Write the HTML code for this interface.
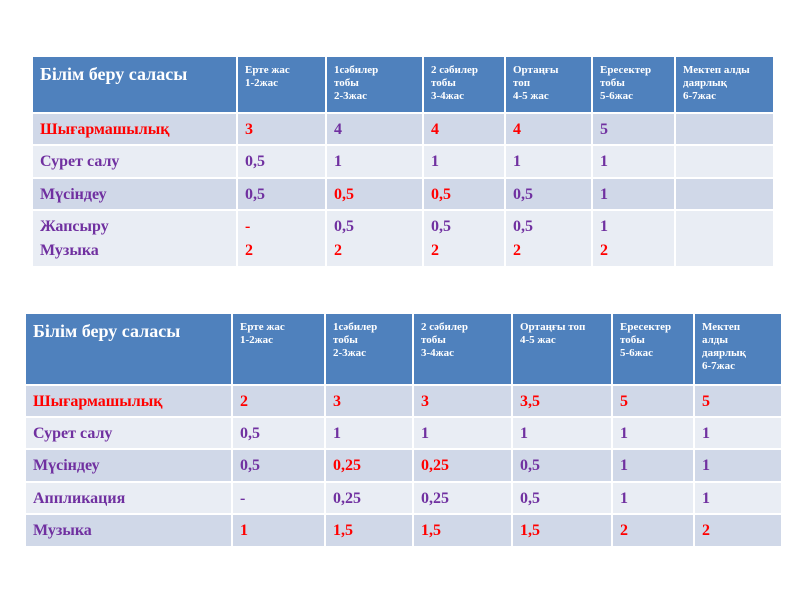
<!DOCTYPE html>
<html><head><meta charset="utf-8"><style>
body{margin:0;width:800px;height:600px;background:#fff;position:relative;overflow:hidden;font-family:"Liberation Serif",serif;font-weight:bold}
table{position:absolute;border-collapse:collapse;table-layout:fixed}
td{border:2px solid #fff;padding:0 0 0 7px;vertical-align:top;font-size:16px;color:#7030a0;line-height:24px}
tr.h td{background:#4f81bd;color:#fff;font-size:11px;line-height:13px;padding-top:7px}
tr.h td.f{font-size:18px;line-height:22px;padding-top:6px}
tr.a td{background:#d0d8e8}
tr.b td{background:#e9edf4}
td{padding-top:4px}
.r{color:#ff0000}
</style></head><body>
<table style="left:31px;top:55px;width:742px">
<colgroup><col style="width:205px"><col style="width:89px"><col style="width:97px"><col style="width:82px"><col style="width:87px"><col style="width:83px"><col style="width:99px"></colgroup>
<tr class="h" style="height:57px"><td class="f">Білім беру саласы</td><td>Ерте жас<br>1-2жас</td><td>1сәбилер<br>тобы<br>2-3жас</td><td>2 сәбилер<br>тобы<br>3-4жас</td><td>Ортаңғы<br>топ<br>4-5 жас</td><td>Ересектер<br>тобы<br>5-6жас</td><td>Мектеп алды<br>даярлық<br>6-7жас</td></tr>
<tr class="a" style="height:32px"><td class="r">Шығармашылық</td><td class="r">3</td><td>4</td><td class="r">4</td><td class="r">4</td><td>5</td><td></td></tr>
<tr class="b" style="height:33px"><td>Сурет салу</td><td>0,5</td><td>1</td><td>1</td><td>1</td><td>1</td><td></td></tr>
<tr class="a" style="height:32px"><td>Мүсіндеу</td><td>0,5</td><td class="r">0,5</td><td class="r">0,5</td><td>0,5</td><td>1</td><td></td></tr>
<tr class="b" style="height:57px"><td>Жапсыру<br>Музыка</td><td class="r">-<br>2</td><td>0,5<br><span class="r">2</span></td><td>0,5<br><span class="r">2</span></td><td>0,5<br><span class="r">2</span></td><td>1<br><span class="r">2</span></td><td></td></tr>
</table>
<table style="left:24px;top:312px;width:757px">
<colgroup><col style="width:207px"><col style="width:93px"><col style="width:88px"><col style="width:99px"><col style="width:100px"><col style="width:82px"><col style="width:88px"></colgroup>
<tr class="h" style="height:72px"><td class="f">Білім беру саласы</td><td>Ерте жас<br>1-2жас</td><td>1сәбилер<br>тобы<br>2-3жас</td><td>2 сәбилер<br>тобы<br>3-4жас</td><td>Ортаңғы топ<br>4-5 жас</td><td>Ересектер<br>тобы<br>5-6жас</td><td>Мектеп<br>алды<br>даярлық<br>6-7жас</td></tr>
<tr class="a" style="height:32px"><td class="r">Шығармашылық</td><td class="r">2</td><td class="r">3</td><td class="r">3</td><td class="r">3,5</td><td class="r">5</td><td class="r">5</td></tr>
<tr class="b" style="height:32px"><td>Сурет салу</td><td>0,5</td><td>1</td><td>1</td><td>1</td><td>1</td><td>1</td></tr>
<tr class="a" style="height:33px"><td>Мүсіндеу</td><td>0,5</td><td class="r">0,25</td><td class="r">0,25</td><td>0,5</td><td>1</td><td>1</td></tr>
<tr class="b" style="height:32px"><td>Аппликация</td><td>-</td><td>0,25</td><td>0,25</td><td>0,5</td><td>1</td><td>1</td></tr>
<tr class="a" style="height:33px"><td>Музыка</td><td class="r">1</td><td class="r">1,5</td><td class="r">1,5</td><td class="r">1,5</td><td class="r">2</td><td class="r">2</td></tr>
</table>
</body></html>
